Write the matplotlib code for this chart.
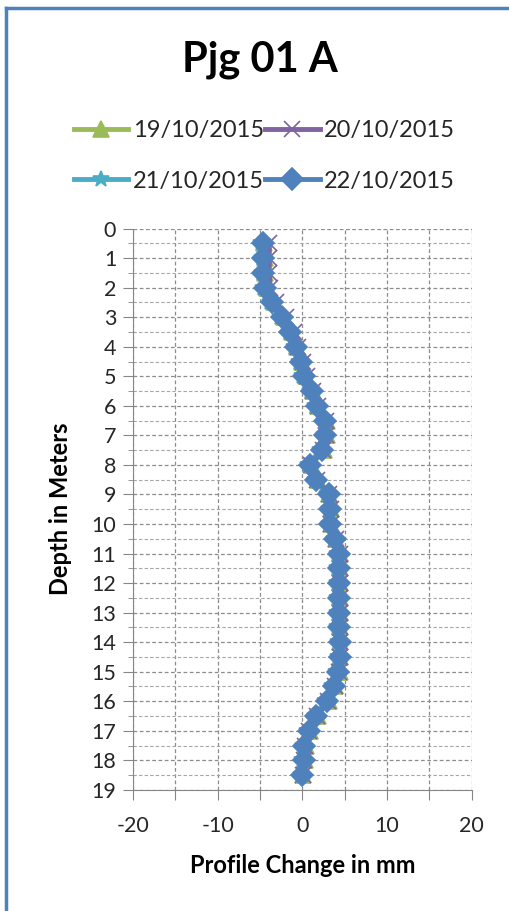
import matplotlib
matplotlib.use("Agg")
import matplotlib.pyplot as plt
from matplotlib.lines import Line2D
from matplotlib.ticker import MultipleLocator

plt.rcParams['font.family'] = ['Lato', 'DejaVu Sans']

# depth of each reading (m)
depth = [0.5, 1.0, 1.5, 2.0, 2.5, 3.0, 3.5, 4.0, 4.5, 5.0, 5.5, 6.0, 6.5,
         7.0, 7.5, 8.0, 8.5, 9.0, 9.5, 10.0, 10.5, 11.0, 11.5, 12.0, 12.5,
         13.0, 13.5, 14.0, 14.5, 15.0, 15.5, 16.0, 16.5, 17.0, 17.5, 18.0, 18.5]

# profile change (mm) per survey date
d19 = [-4.5, -4.4, -4.4, -4.2, -3.4, -2.2, -1.2, -0.6, 0.0, 0.4, 1.3, 1.9, 2.9,
       2.9, 2.5, 1.1, 1.8, 3.2, 3.4, 3.4, 4.0, 4.4, 4.4, 4.4, 4.4,
       4.4, 4.4, 4.5, 4.5, 4.4, 3.9, 3.1, 1.8, 0.9, 0.4, 0.3, 0.1]
d20 = [-3.9, -3.9, -3.9, -3.8, -3.1, -1.9, -1.0, -0.5, 0.1, 0.5, 1.3, 1.9, 2.8,
       2.8, 2.4, 1.0, 1.7, 3.2, 3.4, 3.4, 4.0, 4.4, 4.4, 4.4, 4.4,
       4.4, 4.4, 4.5, 4.5, 4.3, 3.8, 3.0, 1.7, 0.8, 0.3, 0.2, 0.1]
d21 = [-4.9, -4.8, -4.8, -4.6, -3.8, -2.6, -1.6, -1.0, -0.4, 0.0, 0.9, 1.5, 2.5,
       2.5, 2.1, 0.7, 1.5, 2.9, 3.1, 3.1, 3.7, 4.1, 4.1, 4.1, 4.1,
       4.1, 4.1, 4.2, 4.2, 4.0, 3.5, 2.7, 1.5, 0.6, 0.1, 0.0, -0.1]
d22 = [-4.7, -4.6, -4.6, -4.4, -3.6, -2.4, -1.4, -0.8, -0.2, 0.2, 1.1, 1.7, 2.7,
       2.7, 2.3, 0.9, 1.65, 3.1, 3.3, 3.3, 3.9, 4.3, 4.3, 4.3, 4.3,
       4.3, 4.3, 4.4, 4.4, 4.2, 3.7, 2.9, 1.65, 0.75, 0.24, 0.15, 0.0]

dates = ["19/10/2015", "20/10/2015", "21/10/2015", "22/10/2015"]
colors = ["#9BBB59", "#8064A2", "#4BACC6", "#4F81BD"]
markers = ["^", "x", "*", "D"]
msizes = [11, 12, 12, 11]

fig = plt.figure(figsize=(5.09, 9.11), dpi=100)
ax = fig.add_axes([0.261, 0.133, 0.666, 0.616])

for vals, lab, c, m, ms in zip([d19, d20, d21, d22], dates, colors, markers, msizes):
    ax.plot(vals, depth, color=c, lw=3.5, marker=m, ms=ms, mew=1.2,
            mec=c, label=lab)

ax.set_xlim(-20, 20)
ax.set_ylim(19, 0)
ax.xaxis.set_major_locator(MultipleLocator(5))
ax.yaxis.set_major_locator(MultipleLocator(1))
ax.yaxis.set_minor_locator(MultipleLocator(0.5))
ax.set_xticklabels([])
for v in [-20, -10, 0, 10, 20]:
    ax.text(v, 19.9, str(v), ha='center', va='top', fontsize=15.5, color='#262626')

ax.grid(True, which='major', ls=(0, (3, 2)), color='#8c8c8c', lw=0.9)
ax.grid(True, which='minor', axis='y', ls=(0, (3, 2)), color='#a6a6a6', lw=0.8)
ax.set_axisbelow(True)

for s in ['top', 'right']:
    ax.spines[s].set_visible(False)
for s in ['left', 'bottom']:
    ax.spines[s].set_color('#868686')
ax.tick_params(axis='both', which='major', direction='out', length=7,
               color='#868686', labelsize=15.5, labelcolor='#262626')
ax.tick_params(axis='y', which='minor', direction='out', length=3.5, color='#868686')
ax.tick_params(axis='y', pad=5)

ax.set_xlabel("Profile Change in mm", fontsize=17, fontweight='bold', labelpad=36)
ax.set_ylabel("Depth in Meters", fontsize=17, fontweight='bold', labelpad=14)

fig.text(0.51, 0.934, "Pjg 01 A", ha='center', va='center', fontsize=30,
         fontweight='bold')

handles, labels = ax.get_legend_handles_labels()
order = [0, 2, 1, 3]
fig.legend([handles[i] for i in order], [labels[i] for i in order],
           loc='center', bbox_to_anchor=(0.52, 0.829), ncol=2, frameon=False,
           fontsize=17, handlelength=2.3, columnspacing=0.05, handletextpad=0.2,
           labelspacing=1.25, labelcolor='#262626')

# blue frame at the top and left edges
fig.add_artist(Line2D([0.012, 0.012], [0.0, 0.991], color='#4F81BD', lw=2.5))
fig.add_artist(Line2D([0.012, 1.0], [0.991, 0.991], color='#4F81BD', lw=2.5))

fig.savefig("out.png", dpi=100)
